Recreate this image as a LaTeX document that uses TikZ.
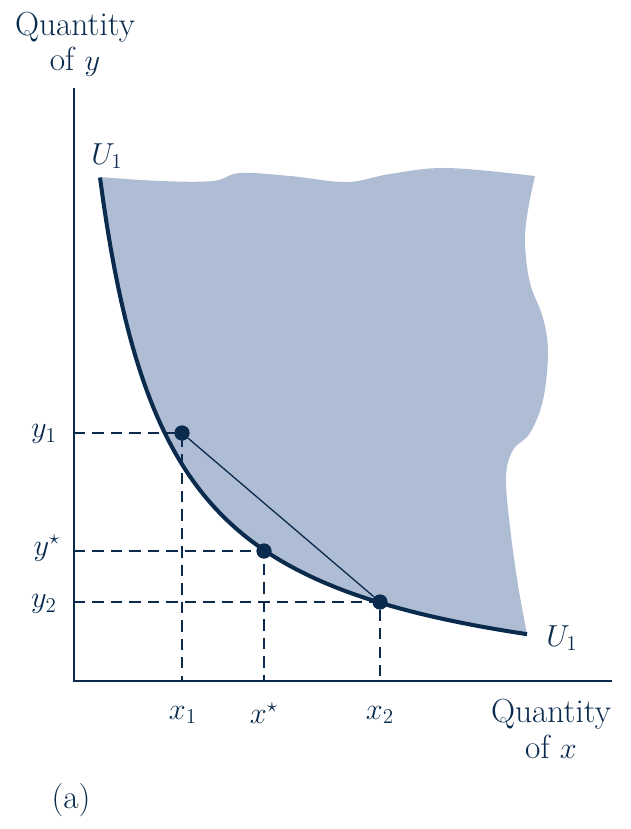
\documentclass[tikz,border=0pt]{standalone}
\usepackage{amssymb}
\definecolor{navy}{HTML}{0A2B4E}
\definecolor{region}{HTML}{AEBDD3}
\tikzset{
  axisline/.style={navy, line width=1.2pt},
  ucurve/.style={navy, line width=2.3pt},
  chord/.style={navy, line width=0.75pt},
  guide/.style={navy, line width=0.9pt, dash pattern=on 6.5pt off 4pt},
  dot/.style={circle, fill=navy, inner sep=0pt, minimum size=0.3cm},
  lab/.style={text=navy, font=\fontsize{17.28}{21}\selectfont, inner sep=0pt},
  qlab/.style={text=navy, font=\fontsize{19}{22}\selectfont, inner sep=0pt, align=center},
}
\begin{document}
\begin{tikzpicture}[x=0.02cm, y=-0.02cm]
\useasboundingbox (0,0) rectangle (631,829);
% shaded region
\fill[region] plot[smooth, tension=0.6] coordinates {(100,177) (160,181) (213,181) (240,173) (290,176) (347,182) (390,174) (447,168) (535,176)}
  -- plot[smooth, tension=0.6] coordinates {(535,176) (528,210) (525,243) (530,283) (543,318) (548,353) (543,400) (530,433) (513,450) (506,477) (510,527) (518,585) (527,634)}
  -- plot[domain=527:100, samples=90] (\x, {709-372/((\x-30)/100)}) -- cycle;
% axes
\coordinate (ytop) at (74,88);
\coordinate (origin) at (74,681);
\coordinate (xend) at (612,681);
\draw[axisline] (ytop) -- (origin) -- (xend);
% points
\node[dot] (p1) at (182,433) {};
\node[dot] (ps) at (264,551) {};
\node[dot] (p2) at (380,602) {};
\coordinate (ay1) at (74,433);
\coordinate (ays) at (74,551);
\coordinate (ay2) at (74,602);
\coordinate (ax1) at (182,681);
\coordinate (axs) at (264,681);
\coordinate (ax2) at (380,681);
\draw[guide] (ay1) -- (p1.center) -- (ax1);
\draw[guide] (ays) -- (ps.center) -- (axs);
\draw[guide] (ay2) -- (p2.center) -- (ax2);
% curve
\draw[ucurve] plot[domain=100:527, samples=120] (\x, {709-372/((\x-30)/100)});
\draw[chord] (p1) -- (p2);
\node[dot] at (p1) {};
\node[dot] at (ps) {};
\node[dot] at (p2) {};
% labels
\node[qlab] (qy) at (75,44) {Quantity\\[-2pt]of $y$};
\node[qlab] (qx) at (551,729) {Quantity\\[-2pt]of $x$};
\node[lab] (u1a) at (107,156) {$U_1$};
\node[lab] (u1b) at (562,638) {$U_1$};
\node[lab] (ly1) at (44,434) {$y_1$};
\node[lab] (lys) at (47,548) {$y^{\star}$};
\node[lab] (ly2) at (44,604) {$y_2$};
\node[lab] (lx1) at (183,715) {$x_1$};
\node[lab] (lxs) at (264,713) {$x^{\star}$};
\node[lab] (lx2) at (380,715) {$x_2$};
\node[qlab] (la) at (71,800) {(a)};
\end{tikzpicture}
\end{document}
